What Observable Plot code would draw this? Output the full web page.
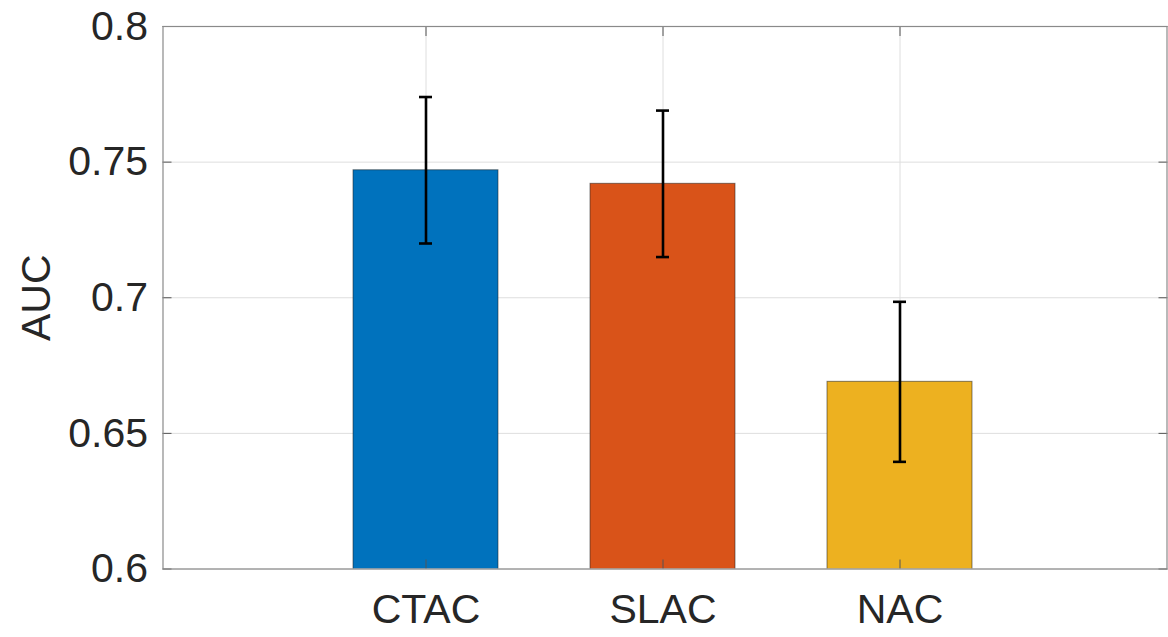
<!DOCTYPE html>
<html>
<head>
<meta charset="utf-8">
<script src="https://cdn.jsdelivr.net/npm/d3@7"></script>
<script src="https://cdn.jsdelivr.net/npm/@observablehq/plot@0.6"></script>
<style>
  html, body { margin: 0; padding: 0; background: #fff; overflow: hidden; }
  #chart svg { display: block; }
</style>
</head>
<body>
<div id="chart"></div>
<script>
// ---- data ----
const categories = ["CTAC", "SLAC", "NAC"];
const aucValues = [0.747, 0.742, 0.669];
const aucErrors = [0.027, 0.027, 0.0295];
const barColors = ["#0072BD", "#D95319", "#EDB120"];
const yTicks = [0.6, 0.65, 0.7, 0.75, 0.8];
const yTickLabels = ["0.6", "0.65", "0.7", "0.75", "0.8"];
const yLabel = "AUC";

const rows = categories.map((c, i) => ({
  name: c, auc: aucValues[i], lo: aucValues[i] - aucErrors[i], hi: aucValues[i] + aucErrors[i], color: barColors[i]
}));

const font = "'Liberation Sans', Arial, Helvetica, sans-serif";
const textColor = "#262626";
const fs = 41;

const chart = Plot.plot({
  width: 1168,
  height: 637,
  marginLeft: 162.5,
  marginRight: 1.5,
  marginTop: 26,
  marginBottom: 68.5,
  style: { fontFamily: font, background: "#fff", overflow: "visible" },
  x: { domain: categories, paddingInner: 0.39, paddingOuter: 0.81, align: 0.495, label: null },
  y: { domain: [0.6, 0.8], label: null },
  color: { type: "identity" },
  marks: [
    Plot.gridY(yTicks, { stroke: "#dedede", strokeOpacity: 1 }),
    Plot.gridX(categories, { stroke: "#dedede", strokeOpacity: 1 }),
    Plot.barY(rows, { x: "name", y: "auc", fill: "color", stroke: "#222", strokeOpacity: 0.55, strokeWidth: 1, clip: true }),
    Plot.ruleX(rows, { x: "name", y1: "lo", y2: "hi", stroke: "#000", strokeWidth: 2.6 }),
    Plot.tickY(rows, { x: "name", y: "hi", stroke: "#000", strokeWidth: 2.6, insetLeft: 66, insetRight: 66 }),
    Plot.tickY(rows, { x: "name", y: "lo", stroke: "#000", strokeWidth: 2.6, insetLeft: 66, insetRight: 66 }),
    // inner tick marks (all four sides)
    Plot.axisX({ anchor: "bottom", tickSize: -9, tickFormat: () => "", label: null, stroke: "#555" }),
    Plot.axisX({ anchor: "top", tickSize: -9, tickFormat: () => "", label: null, stroke: "#555" }),
    Plot.axisY(yTicks, { anchor: "left", tickSize: -9, tickFormat: () => "", label: null, stroke: "#555" }),
    Plot.axisY(yTicks, { anchor: "right", tickSize: -9, tickFormat: () => "", label: null, stroke: "#555" }),
    // tick labels
    Plot.axisX({ anchor: "bottom", tickSize: 0, tickPadding: 25, fontSize: fs, fill: textColor, label: null }),
    Plot.axisY(yTicks, { anchor: "left", tickSize: 0, tickPadding: 15, fontSize: fs, fill: textColor, label: null,
      tickFormat: (d) => yTickLabels[yTicks.indexOf(d)] }),
    Plot.frame({ stroke: "#8a8a8a", strokeWidth: 1.2 }),
    Plot.text([yLabel], { frameAnchor: "left", text: (d) => d, rotate: -90, dx: -126, fontSize: fs, fill: textColor,
      textAnchor: "middle", lineAnchor: "middle" })
  ]
});

document.getElementById("chart").appendChild(chart);
</script>
</body>
</html>
